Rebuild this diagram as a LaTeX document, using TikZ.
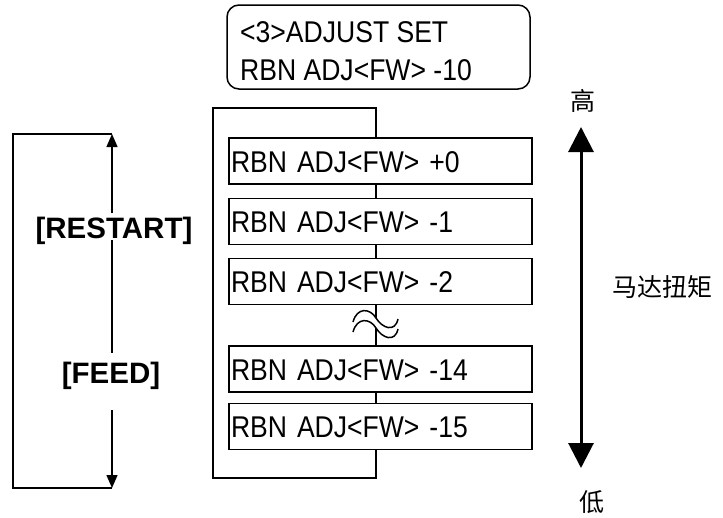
\documentclass[tikz,border=0pt]{standalone}
\usepackage{fontspec}
\setmainfont{Liberation Sans}
\newfontfamily\boxfont[FakeStretch=0.885]{Liberation Sans}
\newfontfamily\cjk{Noto Sans CJK SC}
\usetikzlibrary{arrows.meta}
\begin{document}
\begin{tikzpicture}[x=1pt,y=-1pt,
  ln/.style={line width=1.4pt},
  smalltip/.style={-{Triangle[width=11pt,length=13pt]}},
  item/.style={draw, line width=1.5pt, fill=white, minimum height=46pt,
    text width=299pt, inner xsep=2pt, inner ysep=0pt, align=left,
    text height=22pt, text depth=0pt,
    font=\boxfont\fontsize{30}{36}\selectfont},
  lcdtext/.style={anchor=base west, inner sep=0pt, font=\boxfont\fontsize{30}{36}\selectfont},
  keylabel/.style={anchor=base, inner sep=0pt, font=\bfseries\fontsize{29.5}{34}\selectfont},
  cjklabel/.style={inner sep=0pt, font=\cjk\fontsize{25}{30}\selectfont}
]
\useasboundingbox (0,0) rectangle (723,517);

% top LCD box
\node[draw, line width=1.5pt, rounded corners=12pt, minimum width=303pt, minimum height=84pt] (lcd) at (378.5,47) {};
\node[lcdtext] (lcd1) at (240,42) {<3>ADJUST SET};
\node[lcdtext] (lcd2) at (240,80) {RBN ADJ<FW> -10};

% loop rectangle behind the items
\node[draw, line width=1.5pt, minimum width=163pt, minimum height=370pt, inner sep=0pt] (loop) at (294.5,293) {};

% items
\node[item] (b1) at (380.5,161) {RBN ADJ<FW> +0};
\node[item] (b2) at (380.5,221.5) {RBN ADJ<FW> -1};
\node[item] (b3) at (380.5,281.5) {RBN ADJ<FW> -2};
\node[item] (b4) at (380.5,369) {RBN ADJ<FW> -14};
\node[item] (b5) at (380.5,426.5) {RBN ADJ<FW> -15};

% wave (omission mark)
\fill[white] (353,322) .. controls (357,307) and (370,308) .. (376,318)
  .. controls (382,328) and (395,333) .. (398,319) -- (398,329)
  .. controls (395,343) and (382,338) .. (376,328)
  .. controls (370,318) and (357,317) .. (353,332) -- cycle;
\draw[line width=1.5pt] (353,322) .. controls (357,307) and (370,308) .. (376,318)
  .. controls (382,328) and (395,333) .. (398,319);
\draw[line width=1.5pt] (353,332) .. controls (357,317) and (370,318) .. (376,328)
  .. controls (382,338) and (395,343) .. (398,329);

% left key loop
\coordinate (ltop) at (112,134);
\coordinate (lbot) at (112,488);
\coordinate (ltl) at (13,134);
\coordinate (lbl) at (13,488);
\coordinate (rsA) at (112,213);
\coordinate (rsB) at (112,240);
\coordinate (fdA) at (112,353);
\coordinate (fdB) at (112,410);
\node[keylabel] (restart) at (114,238) {[RESTART]};
\node[keylabel] (feed) at (111,383) {[FEED]};
\draw[ln] (ltop) -- (ltl) -- (lbl) -- (lbot);
\draw[ln, smalltip] (rsA) -- (ltop);
\draw[ln] (rsB) -- (fdA);
\draw[ln, smalltip] (fdB) -- (lbot);

% torque arrow
\coordinate (atop) at (581,127);
\coordinate (abot) at (581,468);
\draw[line width=3pt, {Triangle[width=25pt,length=25pt]}-{Triangle[width=25pt,length=25pt]}] (atop) -- (abot);
\node[cjklabel] (hi) at (583,101) {高};
\node[cjklabel] (lo) at (592,502) {低};
\node[cjklabel] (torque) at (662,287) {马达扭矩};
\end{tikzpicture}
\end{document}
